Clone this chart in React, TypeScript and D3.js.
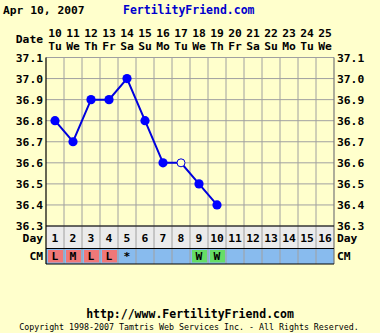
import React from "react";
import * as d3 from "d3";

const dates = ["10","11","12","13","14","15","16","17","18","19","20","21","22","23","24","25"];
const weekdays = ["Tu","We","Th","Fr","Sa","Su","Mo","Tu","We","Th","Fr","Sa","Su","Mo","Tu","We"];
const cycleDays = [1,2,3,4,5,6,7,8,9,10,11,12,13,14,15,16];
const temps = [36.8, 36.7, 36.9, 36.9, 37.0, 36.8, 36.6, 36.6, 36.5, 36.4];
const openPoints = [false, false, false, false, false, false, false, true, false, false];
const cmCodes = ["L","M","L","L","*","","","","W","W","","","","","",""];
const yTicks = [36.3,36.4,36.5,36.6,36.7,36.8,36.9,37.0,37.1];

const FONT = "'DejaVu Sans Mono', 'Liberation Mono', monospace";

export default function App() {
  const W = 380, H = 333;
  const left = 46, right = 334, top = 57.5, bottom = 226;
  const dayRowBottom = 248.5, cmRowBottom = 264;
  const x = d3.scaleLinear().domain([0.5, 16.5]).range([left, right]);
  const y = d3.scaleLinear().domain([36.3, 37.1]).range([bottom, top]);
  const colW = x(2) - x(1);
  const line = d3.line<number>().x((_, i) => x(i + 1)).y(d => y(d));
  const grid = "#a0a0a0";
  const cmColor = (c: string) => (c === "L" || c === "M" ? "#f07878" : c === "W" ? "#66dd66" : null);

  return (
    <svg width={W} height={H} style={{ position: "absolute", left: 0, top: 0, background: "#ffffcc" }}>
      <rect x={0} y={0} width={W} height={H} fill="#ffffcc" />
      {/* header */}
      <text x={3} y={14} fontFamily={FONT} fontWeight="bold" fontSize={11.3} fill="#000">Apr 10, 2007</text>
      <text x={123} y={14} fontFamily={FONT} fontWeight="bold" fontSize={11.5} fill="#0000cc">FertilityFriend.com</text>
      <text x={43} y={43} textAnchor="end" fontFamily={FONT} fontWeight="bold" fontSize={11.3}>Date</text>
      {dates.map((d, i) => (
        <text key={"d" + i} x={x(i + 1)} y={37} textAnchor="middle" fontFamily={FONT} fontWeight="bold" fontSize={11.3}>{d}</text>
      ))}
      {weekdays.map((d, i) => (
        <text key={"w" + i} x={x(i + 1)} y={50} textAnchor="middle" fontFamily={FONT} fontWeight="bold" fontSize={11.3}>{d}</text>
      ))}
      {/* rows backgrounds */}
      <rect x={left} y={bottom} width={right - left} height={dayRowBottom - bottom} fill="#ebebeb" />
      <rect x={left} y={dayRowBottom} width={right - left} height={cmRowBottom - dayRowBottom} fill="#88bbee" />
      {cmCodes.map((c, i) => {
        const col = cmColor(c);
        return col ? (
          <rect key={"cmr" + i} x={x(i + 0.5) + 2} y={dayRowBottom + 1.5} width={colW - 3} height={cmRowBottom - dayRowBottom - 3} fill={col} />
        ) : null;
      })}
      {/* grid */}
      {yTicks.map((t) => (
        <line key={"h" + t} x1={left} x2={right} y1={y(t)} y2={y(t)} stroke={grid} strokeWidth={1} />
      ))}
      {d3.range(1, 16).map((i) => (
        <line key={"v" + i} x1={x(i + 0.5)} x2={x(i + 0.5)} y1={top} y2={cmRowBottom} stroke={grid} strokeWidth={1} />
      ))}
      <line x1={left} x2={left} y1={top} y2={cmRowBottom} stroke="#000" strokeWidth={1.2} />
      <line x1={right} x2={right} y1={top} y2={cmRowBottom} stroke="#777" strokeWidth={1.2} />
      <line x1={left} x2={right} y1={bottom} y2={bottom} stroke="#000" strokeWidth={1.2} />
      <line x1={left} x2={right} y1={dayRowBottom} y2={dayRowBottom} stroke="#000" strokeWidth={1} />
      <line x1={left} x2={right} y1={cmRowBottom} y2={cmRowBottom} stroke="#000" strokeWidth={1} />
      {/* y labels */}
      {yTicks.map((t) => (
        <g key={"yl" + t}>
          <text x={43} y={y(t) + 4} textAnchor="end" fontFamily={FONT} fontWeight="bold" fontSize={11.3}>{t.toFixed(1)}</text>
          <text x={337} y={y(t) + 4} fontFamily={FONT} fontWeight="bold" fontSize={11.3}>{t.toFixed(1)}</text>
        </g>
      ))}
      {/* day row */}
      <text x={43} y={242} textAnchor="end" fontFamily={FONT} fontWeight="bold" fontSize={11.3}>Day</text>
      <text x={337} y={242} fontFamily={FONT} fontWeight="bold" fontSize={11.3}>Day</text>
      {cycleDays.map((d, i) => (
        <text key={"cd" + i} x={x(i + 1)} y={242} textAnchor="middle" fontFamily={FONT} fontWeight="bold" fontSize={11.3}>{d}</text>
      ))}
      <text x={43} y={260} textAnchor="end" fontFamily={FONT} fontWeight="bold" fontSize={11.3}>CM</text>
      <text x={337} y={260} fontFamily={FONT} fontWeight="bold" fontSize={11.3}>CM</text>
      {cmCodes.map((c, i) => (
        c ? <text key={"cm" + i} x={x(i + 1)} y={260} textAnchor="middle" fontFamily={FONT} fontWeight="bold" fontSize={11.3}>{c}</text> : null
      ))}
      {/* temperature line */}
      <path d={line(temps) || ""} fill="none" stroke="#0000dd" strokeWidth={2} />
      {temps.map((t, i) => (
        openPoints[i] ? (
          <circle key={"p" + i} cx={x(i + 1)} cy={y(t)} r={4} fill="#ffffcc" stroke="#0000dd" strokeWidth={1} />
        ) : (
          <circle key={"p" + i} cx={x(i + 1)} cy={y(t)} r={4.6} fill="#0000ff" />
        )
      ))}
      {/* footer */}
      <text x={190} y={318} textAnchor="middle" fontFamily={FONT} fontWeight="bold" fontSize={11.5}>http://www.FertilityFriend.com</text>
      <text x={189} y={330} textAnchor="middle" fontFamily={FONT} fontSize={8.3}>Copyright 1998-2007 Tamtris Web Services Inc. - All Rights Reserved.</text>
    </svg>
  );
}
